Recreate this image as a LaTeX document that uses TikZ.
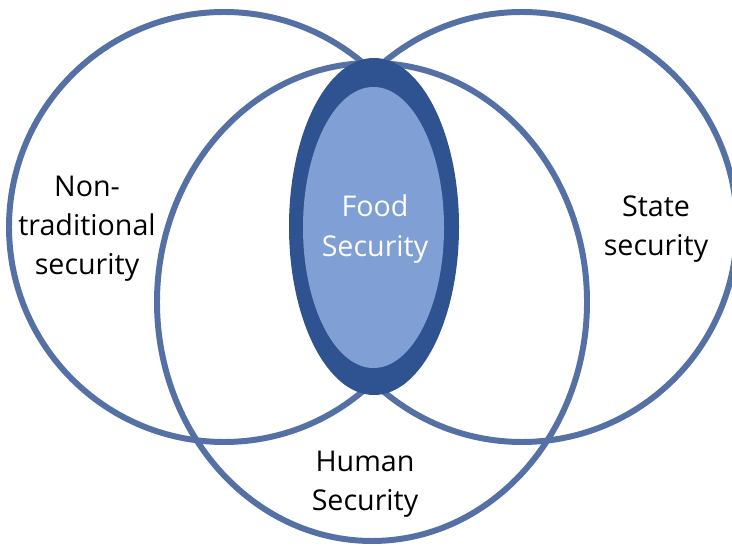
\documentclass[tikz,border=0pt]{standalone}
\usepackage{fontspec}
\setmainfont{Open Sans}
\usetikzlibrary{positioning}

\definecolor{ringblue}{RGB}{84,112,165}
\definecolor{darkblue}{RGB}{47,82,145}
\definecolor{lightblue}{RGB}{127,159,213}

\tikzset{
  ring/.style={draw=ringblue, line width=3.4pt},
  label/.style={align=center, font=\fontsize{16.3}{22.3}\selectfont, inner sep=0pt},
}

\begin{document}
\begin{tikzpicture}[x=0.02cm, y=-0.02cm]
\useasboundingbox (0,0) rectangle (732,546);
\clip (0,0) rectangle (732,546);

\draw[ring] (224,227) circle[radius=215];
\draw[ring] (522,227) circle[radius=215];
\draw[ring] (372,302) ellipse[x radius=215, y radius=239];

\fill[darkblue] (374,226.5) ellipse[x radius=85, y radius=168.5];
\fill[lightblue] (373.5,227.5) ellipse[x radius=70.5, y radius=140.5];

\node[label, text=white] (food) at (375,229) {Food\\Security};
\node[label] (nontrad) at (87,229) {Non-\\traditional\\security};
\node[label] (state) at (656,229) {State\\security};
\node[label] (human) at (365,484) {Human\\Security};

\end{tikzpicture}
\end{document}
